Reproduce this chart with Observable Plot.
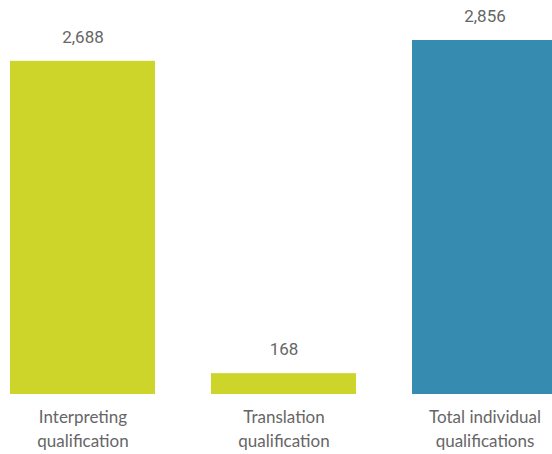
<!DOCTYPE html>
<html>
<head>
<meta charset="utf-8">
<script src="https://cdn.jsdelivr.net/npm/d3@7"></script>
<script src="https://cdn.jsdelivr.net/npm/@observablehq/plot@0.6"></script>
<style>
  body { margin: 0; background: #fff; }
  #chart svg { display: block; }
</style>
</head>
<body>
<div id="chart"></div>
<script>
const categories = ["Interpreting qualification", "Translation qualification", "Total individual qualifications"];
const tickLabels = ["Interpreting\nqualification", "Translation\nqualification", "Total individual\nqualifications"];
const values = [2688, 168, 2856];
const colors = ["#CDD42A", "#CDD42A", "#368CB0"];

const data = categories.map((c, i) => ({category: c, value: values[i], color: colors[i]}));

const chart = Plot.plot({
  width: 552,
  height: 454,
  marginTop: 40,
  marginBottom: 60,
  marginLeft: 10,
  marginRight: 0,
  style: {fontFamily: "Lato, 'Open Sans', sans-serif", color: "#666", background: "#fff"},
  x: {domain: categories, range: [10, 557], padding: 0.28, paddingOuter: 0, label: null},
  y: {domain: [0, 2856], axis: null},
  marks: [
    Plot.barY(data, {x: "category", y: "value", fill: "color"}),
    Plot.text(data, {x: "category", y: "value", text: d => d3.format(",")(d.value), dy: -24, lineAnchor: "middle", fontSize: 17, fill: "#666", fontFamily: "Roboto, sans-serif"}),
    Plot.axisX({tickSize: 0, tickPadding: 12, fontSize: 17, lineHeight: 1.4, fill: "#666", tickFormat: d => tickLabels[categories.indexOf(d)], label: null})
  ]
});
document.getElementById("chart").append(chart);
</script>
</body>
</html>
